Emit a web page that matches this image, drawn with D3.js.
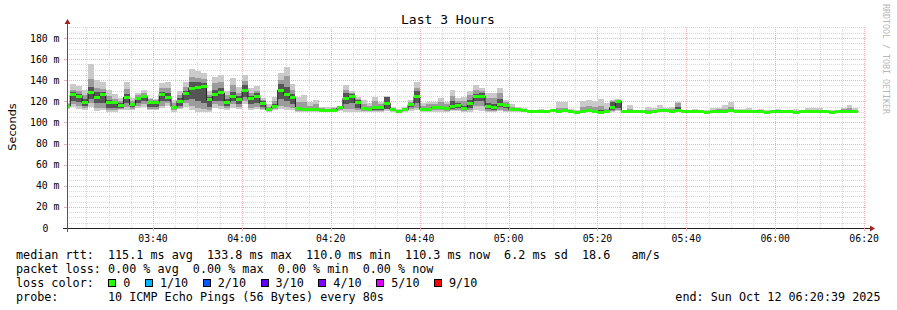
<!DOCTYPE html>
<html lang="en">
<head>
<meta charset="utf-8">
<title>Last 3 Hours</title>
<script src="https://cdn.jsdelivr.net/npm/d3@7"></script>
<style>
body { margin: 0; background: #fff; }
svg text { font-family: "DejaVu Sans Mono", monospace; fill: #000; white-space: pre; }
</style>
</head>
<body>
<script>
// median rtt per 80s step (ms), first step ends 03:21:23
var median = [
115.5,126.3,124.7,118.4,127.9,123.8,126.0,118.7,118.7,116.5,
123.8,116.8,122.2,124.4,119.1,119.1,126.6,123.8,114.6,120.0,
127.6,132.5,133.5,133.8,121.6,126.3,127.9,119.1,124.4,121.3,
130.0,122.2,124.7,118.1,111.8,115.2,130.7,126.6,123.2,113.0,
111.8,111.8,112.4,111.2,111.2,111.0,113.7,122.8,125.0,118.7,
113.4,112.7,113.8,114.0,118.1,111.8,110.5,111.8,116.8,124.4,
112.4,112.4,114.0,113.7,113.4,115.0,115.9,113.4,117.5,124.4,
125.0,115.0,113.7,117.2,116.0,112.1,112.6,111.2,
110.8,110.5,110.2,110.5,111.0,110.8,111.2,110.5,109.8,110.8,
111.0,110.6,109.8,110.5,114.0,120.0,110.3,110.8,110.3,110.3,
109.8,110.5,111.0,111.0,110.5,111.5,110.2,110.2,110.6,110.0,
109.8,110.6,110.6,110.8,111.0,110.6,110.5,110.2,110.5,110.2,
109.8,110.5,110.8,110.5,110.2,109.8,110.6,110.8,110.8,110.6,
110.2,109.8,110.5,110.5,110.8,110.3];

// fastest / slowest ping of each step
var pingMin = [
113,115,113,112,115,111,111.7,110,110,111.7,
112,111.7,114,115,111.7,111.7,113.4,116,110,112.7,
115,111.7,110,110,110,114,113,112,114,113,
117.6,112,113,111.7,110.2,111.8,112.4,111.7,111.7,110,
110,110,110,110,110,110,110.9,110,110,110,
110,110,110,110,111,110,109.4,110,111,111.7,
110,110,110,110,110,110.5,110.5,110.2,110.2,111.7,
110.5,110,110,110.5,110,110,110,110,
110,109.8,109.6,109.8,110.2,110,110.2,109.8,109.3,110,
110.2,109.8,109.3,109.8,110,110.5,109.6,110,109.6,109.6,
109.3,109.8,110.2,110.2,109.8,110.5,109.6,109.6,109.8,109.4,
109.3,109.8,109.8,110,110.2,109.8,109.8,109.6,109.8,109.6,
109.3,109.8,110,109.8,109.6,109.3,109.8,110,110,109.8,
109.6,109.3,109.8,109.8,110,109.6];
var pingMax = [
118,136,134.5,131,155,140,138,131,126.6,122.8,
138,122.8,128,131,123.4,121.8,137,138,121.2,130,
138,150.6,149,146.5,129.4,143.4,145,130,141.8,134,
145,133,134.5,122.8,117.5,124.4,147,152.8,136.4,124.4,
126,119.6,121.2,115,114.4,115,115.6,135.4,130,124.4,
121.2,118,123.8,119.6,125,114.4,112.4,114.4,121.2,138.6,
118.7,119.6,119.6,122.8,119.6,130.7,122.8,124.4,130,135,
133,128,128,133,121.2,117.5,115,113.4,
112,112,112.5,112,113,119,119,112.5,111.5,120,
121,120,122,118,121,122,112,116.5,112,112,
115,114,116.5,113.4,115,119,112,112,112.6,111.5,
111.5,113.4,114,116.5,119.3,112.5,112.6,113.4,112,112.5,
112,112,112.6,112,112,112.6,112,113.4,113.4,113.4,
112,111.5,112,114,116.5,114];

// second band of pings
var midLo = [
114,117,116,114,118,114,114,112,112,112.5,
115,113,116,117,113,113,116,118,111.5,114,
118,116,114,113,112,117,116,114,117,115,
120,114,115,113,110.8,112.5,116,115,114,111,
110.8,110.8,111,110.5,110.5,110.5,111.5,113,113,112,
111,111,111,111,113,110.5,109.8,110.5,113,114,
111,111,111.5,111.5,111,112,112,111,112,116,
116,111,111,112,111,110.5,110.5,110.3,
110.3,110,109.8,110,110.5,110.3,110.7,110,109.5,110.3,
110.5,110.2,109.5,110,111,112,109.8,110.3,109.8,109.8,
109.5,110,110.5,110.5,110,110.8,109.8,109.8,110.2,109.6,
109.5,110.2,110.2,110.3,110.5,110.2,110,109.8,110,109.8,
109.5,110,110.3,110,109.8,109.5,110.2,110.3,110.3,110.2,
109.8,109.5,110,110,110.3,109.8];
var midHi = [
117,131,130,126,141,133,132,125,122,120,
132,120,126,128,122,121,133,133,118,126,
134,143,142,141,126,137,138,126,135,128,
139,128,130,121,115,120,140,144,131,119,
119,116,117,113.5,113,113.5,115,131,128,122,
117,116,120,117,123,113,111.5,113,119,133,
116,117,117,119,117,125,120,120,126,131,
130,123,123,128,119,115,113.5,112.5,
111.5,111.2,111,111.2,112,114,114,111.2,110.5,115,
116,115,116,113,120,121.5,111,113,111,111,
112,112,113,112,112.5,118,111,111,111.5,110.8,
110.5,112,112.5,113,115,111.5,111.5,112,111.2,111.2,
110.5,111.2,111.8,111.2,111,110.5,111.3,112,112,112,
111,110.5,111.2,112.5,113.5,112];

// pings closest to the median
var coreLo = [
114.5,120,119,116,122,118,118,114,114,114,
118,114.5,118,120,115,115,120,120,112.5,116,
121,122,120,118,115,120,120,116,120,117,
124,117,118,115,111,113.5,122,120,117,112,
111,111,111.5,110.8,110.8,110.8,112.5,117,118,114,
112,111.5,112,112,113,111,110,111,115,118,
111.5,111.5,112.5,112.5,112,113,113.5,112,114,120,
120,113,112,115,113.5,111,111.5,110.8,
110.5,110.2,109.9,110.2,110.7,110.5,110.9,110.2,109.6,110.5,
110.7,110.3,109.6,110.2,112,114,110,110.5,110,110,
109.6,110.2,110.7,110.7,110.2,111,110,110,110.3,109.8,
109.6,110.3,110.3,110.5,110.7,110.3,110.2,110,110.2,110,
109.6,110.2,110.5,110.2,110,109.6,110.3,110.5,110.5,110.3,
110,109.6,110.2,110.2,110.5,110];
var coreHi = [
116.5,128.5,127,122,134,129,129,121,120,118,
127,118.5,124,126,120.5,120,129,128,116,123,
130,138,138,137,124,131,133,122,129,125,
135,125,128,120,113.5,117,136,134,127,115,
114,113,114,112,112,112,114.5,128,126.5,121,
115,114,116,115.5,124,112.5,111,112.5,118,130,
114,114,116,116,115,120,118,116,121,127,
128,118,117,122,117.5,113.5,113,112,
111.2,110.9,110.6,110.9,111.4,111.5,111.8,110.9,110.2,112,
112.5,112,112,111.5,119,121,110.7,111.5,110.7,110.7,
110.4,111,111.6,111.4,111,114.5,110.6,110.6,111,110.4,
110.2,111,111.2,111.5,112,111,110.9,110.6,110.9,110.6,
110.2,110.9,111.2,110.9,110.6,110.2,111,111.2,111.2,111,
110.6,110.2,110.9,111,111.5,110.7];

var yTicks = [0, 20, 40, 60, 80, 100, 120, 140, 160, 180];
var xTicks = ["03:40", "04:00", "04:20", "04:40", "05:00", "05:20", "05:40", "06:00", "06:20"];
var lossLabels = ["0", "1/10", "2/10", "3/10", "4/10", "5/10", "9/10"];
var lossColors = ["#26ff00", "#00b8ff", "#0059ff", "#5e00ff", "#7e00ff", "#dd00ff", "#ff0000"];

var statLines = [
  "median rtt:  115.1 ms avg  133.8 ms max  110.0 ms min  110.3 ms now  6.2 ms sd  18.6   am/s",
  "packet loss: 0.00 % avg  0.00 % max  0.00 % min  0.00 % now"
];
var probeText = "probe:       10 ICMP Echo Pings (56 Bytes) every 80s";
var endText = "end: Sun Oct 12 06:20:39 2025";

var start = new Date(2025, 9, 12, 3, 20, 39);
var end = new Date(2025, 9, 12, 6, 20, 39);
var firstEnd = new Date(2025, 9, 12, 3, 21, 23);
var step = 80 * 1000;

var left = 67, right = 867, bottom = 228;

var x = d3.scaleTime().domain([start, end]).range([left, right]);
var y = d3.scaleLinear().domain([0, 190]).range([bottom, 27.4]);

var svg = d3.select("body").append("svg")
  .attr("width", 897)
  .attr("height", 310);

var minorCol = "#d9d9d9", majorCol = "#efb0b0";

// grid
var grid = svg.append("g");
d3.range(5, 191, 5).forEach(function(v) {
  var yy = Math.round(y(v)) + 0.5;
  grid.append("line")
    .attr("x1", left).attr("x2", right)
    .attr("y1", yy).attr("y2", yy)
    .attr("stroke", v % 20 === 0 ? majorCol : minorCol)
    .attr("stroke-dasharray", "1,1");
});
d3.timeMinute.every(5).range(start, end).forEach(function(t) {
  var xx = Math.round(x(t)) + 0.5;
  var major = t.getMinutes() % 20 === 0;
  grid.append("line")
    .attr("x1", xx).attr("x2", xx)
    .attr("y1", bottom).attr("y2", y(190))
    .attr("stroke", major ? majorCol : minorCol)
    .attr("stroke-dasharray", "1,1");
});

// bins
var bins = median.map(function(m, i) {
  var t1 = new Date(firstEnd.getTime() + i * step);
  var t0 = new Date(t1.getTime() - step);
  return { x0: Math.max(x(t0), left), x1: x(t1), i: i };
});

function band(lo, hi, color) {
  svg.append("g").selectAll("rect")
    .data(bins)
    .enter()
    .append("rect")
    .attr("x", function(d) { return d.x0; })
    .attr("width", function(d) { return d.x1 - d.x0; })
    .attr("y", function(d) { return y(hi[d.i]); })
    .attr("height", function(d) { return y(lo[d.i]) - y(hi[d.i]); })
    .attr("fill", color)
    .attr("shape-rendering", "crispEdges");
}
band(pingMin, pingMax, "#cacaca");
band(midLo, midHi, "#9c9c9c");
band(coreLo, coreHi, "#555555");

// median step line
var pts = [];
bins.forEach(function(d) {
  pts.push([d.x0, y(median[d.i])]);
  pts.push([d.x1, y(median[d.i])]);
});
svg.append("path")
  .attr("d", d3.line()(pts))
  .attr("fill", "none")
  .attr("stroke", "#202020")
  .attr("stroke-width", 1);

// loss colour band on the median
svg.append("g").selectAll("rect")
  .data(bins)
  .enter()
  .append("rect")
  .attr("x", function(d) { return d.x0; })
  .attr("width", function(d) { return d.x1 - d.x0; })
  .attr("y", function(d) { return y(median[d.i]) - 1.5; })
  .attr("height", 3)
  .attr("fill", lossColors[0])
  .attr("shape-rendering", "crispEdges");

// axes
svg.append("line")
  .attr("x1", left - 4).attr("x2", right + 3)
  .attr("y1", bottom + 0.5).attr("y2", bottom + 0.5)
  .attr("stroke", "#222");
svg.append("line")
  .attr("x1", left + 0.5).attr("x2", left + 0.5)
  .attr("y1", bottom + 4).attr("y2", 23)
  .attr("stroke", "#555");
svg.append("path")
  .attr("d", "M64.5,24 L70.5,24 L67.5,19 Z")
  .attr("fill", "#a02020");
svg.append("path")
  .attr("d", "M870,225.5 L870,231.5 L875,228.5 Z")
  .attr("fill", "#a02020");

yTicks.forEach(function(v) {
  var yy = Math.round(y(v)) + 0.5;
  svg.append("line")
    .attr("x1", left - 3).attr("x2", left)
    .attr("y1", yy).attr("y2", yy)
    .attr("stroke", v === 0 ? "#222" : majorCol);
  svg.append("text")
    .attr("x", v === 0 ? 48.5 : 59.5)
    .attr("y", y(v) + 3.6)
    .attr("text-anchor", "end")
    .attr("font-size", "9.8px")
    .text(v === 0 ? "0" : v + " m");
});

var parseHM = d3.timeParse("%Y-%m-%d %H:%M");
xTicks.forEach(function(s) {
  var t = parseHM("2025-10-12 " + s);
  svg.append("line")
    .attr("x1", Math.round(x(t)) + 0.5).attr("x2", Math.round(x(t)) + 0.5)
    .attr("y1", bottom).attr("y2", bottom + 3)
    .attr("stroke", majorCol);
  svg.append("text")
    .attr("x", x(t))
    .attr("y", 242.2)
    .attr("text-anchor", "middle")
    .attr("font-size", "9.8px")
    .text(s);
});

// titles
svg.append("text")
  .attr("x", 448).attr("y", 24)
  .attr("text-anchor", "middle")
  .attr("font-size", "13px")
  .text("Last 3 Hours");

svg.append("text")
  .attr("transform", "translate(16,127) rotate(-90)")
  .attr("text-anchor", "middle")
  .attr("font-size", "11.3px")
  .style("font-family", "'DejaVu Sans', sans-serif")
  .text("Seconds");

svg.append("text")
  .attr("transform", "translate(883,4) rotate(90)")
  .attr("font-size", "8.3px")
  .style("fill", "#b8b8b8")
  .text("RRDTOOL / TOBI OETIKER");

// legend
statLines.forEach(function(s, i) {
  svg.append("text")
    .attr("x", 16).attr("y", 258.5 + i * 14.1)
    .attr("font-size", "11.75px")
    .text(s);
});

svg.append("text")
  .attr("x", 16).attr("y", 286.7)
  .attr("font-size", "11.75px")
  .text("loss color:");

var bx = 108.3;
lossLabels.forEach(function(lab, i) {
  svg.append("rect")
    .attr("x", Math.round(bx) + 0.5).attr("y", 279.5)
    .attr("width", 7).attr("height", 7)
    .attr("fill", lossColors[i])
    .attr("stroke", "#000");
  svg.append("text")
    .attr("x", bx + 15).attr("y", 286.7)
    .attr("font-size", "11.75px")
    .text(lab);
  bx += lab.length * 7.08 + 29.5;
});

svg.append("text")
  .attr("x", 16).attr("y", 300.8)
  .attr("font-size", "11.75px")
  .text(probeText);
svg.append("text")
  .attr("x", 880.5).attr("y", 300.8)
  .attr("text-anchor", "end")
  .attr("font-size", "11.75px")
  .text(endText);
</script>
</body>
</html>
